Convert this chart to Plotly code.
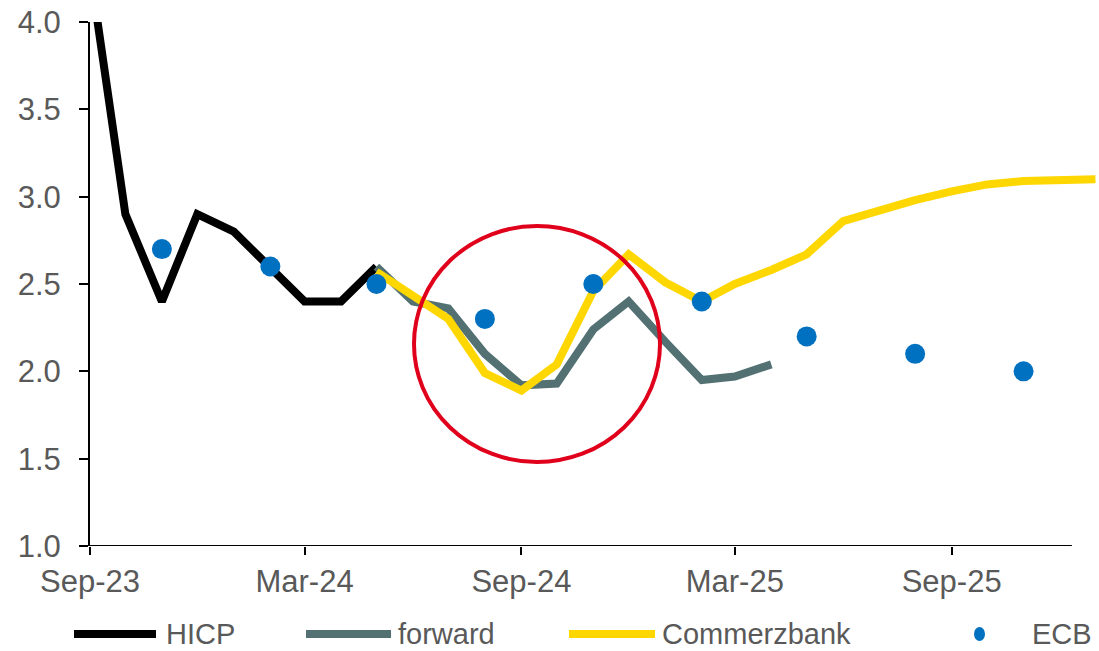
import plotly.graph_objects as go

# Monthly euro-area inflation (% y/y)
hicp_months = ["2023-09-01", "2023-10-01", "2023-11-01", "2023-12-01", "2024-01-01",
               "2024-02-01", "2024-03-01", "2024-04-01", "2024-05-01"]
hicp_values = [4.3, 2.9, 2.4, 2.9, 2.8, 2.6, 2.4, 2.4, 2.6]

forward_months = ["2024-05-01", "2024-06-01", "2024-07-01", "2024-08-01", "2024-09-01",
                  "2024-10-01", "2024-11-01", "2024-12-01", "2025-01-01", "2025-02-01",
                  "2025-03-01", "2025-04-01"]
forward_values = [2.6, 2.40, 2.36, 2.10, 1.92, 1.93, 2.24, 2.40, 2.17, 1.95, 1.97, 2.04]

cbk_months = ["2024-05-01", "2024-06-01", "2024-07-01", "2024-08-01", "2024-09-01",
              "2024-10-01", "2024-11-01", "2024-12-01", "2025-01-01", "2025-02-01",
              "2025-03-01", "2025-04-01", "2025-05-01", "2025-06-01", "2025-07-01",
              "2025-08-01", "2025-09-01", "2025-10-01", "2025-11-01", "2025-12-01",
              "2026-01-01"]
cbk_values = [2.57, 2.43, 2.30, 1.99, 1.89, 2.04, 2.46, 2.67, 2.51, 2.40,
              2.50, 2.58, 2.67, 2.86, 2.92, 2.98, 3.03, 3.07, 3.09, 3.10, 3.10]

# ECB staff projections, quarterly (plotted at mid-quarter month)
ecb_months = ["2023-11-01", "2024-02-01", "2024-05-01", "2024-08-01", "2024-11-01",
              "2025-02-01", "2025-05-01", "2025-08-01", "2025-11-01"]
ecb_values = [2.7, 2.6, 2.5, 2.3, 2.5, 2.4, 2.2, 2.1, 2.0]

x_tick_dates = ["2023-09-01", "2024-03-01", "2024-09-01", "2025-03-01", "2025-09-01"]
x_tick_labels = ["Sep-23", "Mar-24", "Sep-24", "Mar-25", "Sep-25"]
y_tick_values = [1.0, 1.5, 2.0, 2.5, 3.0, 3.5, 4.0]

series_names = ["HICP", "forward", "Commerzbank", "ECB"]
series_colors = ["#000000", "#537173", "#FFD700", "#0070C0"]

FONT = "Liberation Sans, Arial, sans-serif"
LABEL_GREY = "#595959"
FS = 31
LEGEND_FS = 29

fig = go.Figure()
fig.add_trace(go.Scatter(x=hicp_months, y=hicp_values, mode="lines", name=series_names[0],
                         line=dict(color=series_colors[0], width=8)))
fig.add_trace(go.Scatter(x=forward_months, y=forward_values, mode="lines", name=series_names[1],
                         line=dict(color=series_colors[1], width=8)))
fig.add_trace(go.Scatter(x=cbk_months, y=cbk_values, mode="lines", name=series_names[2],
                         line=dict(color=series_colors[2], width=8)))
fig.add_trace(go.Scatter(x=ecb_months, y=ecb_values, mode="markers", name=series_names[3],
                         marker=dict(color=series_colors[3], size=20)))

W, H = 1099, 651
ML, MR, MT, MB = 90, 0, 22, 105
pw, ph = W - ML - MR, H - MT - MB


def px_x(p):
    return (p - ML) / pw


def px_y(p):
    return (H - MB - p) / ph


shapes = []
# horizontal axis line ending before the right edge
shapes.append(dict(type="line", xref="x", yref="y", x0="2023-09-01", x1="2025-12-12",
                   y0=1.0, y1=1.0, line=dict(color="#000000", width=2), layer="above"))
# red highlight circle around the autumn 2024 dip
shapes.append(dict(type="circle", xref="paper", yref="paper",
                   x0=px_x(414), x1=px_x(660), y0=px_y(462), y1=px_y(226),
                   line=dict(color="#E0001B", width=4)))

# legend row
legend_y = px_y(634)
legend_items = [(74, 156, 165), (306, 391, 397), (569, 655, 661)]
annotations = []
for i, (lx0, lx1, tx) in enumerate(legend_items):
    shapes.append(dict(type="line", xref="paper", yref="paper", x0=px_x(lx0), x1=px_x(lx1),
                       y0=legend_y, y1=legend_y, line=dict(color=series_colors[i], width=8)))
    annotations.append(dict(xref="paper", yref="paper", x=px_x(tx), y=legend_y, text=series_names[i],
                            showarrow=False, xanchor="left", yanchor="middle", borderpad=0,
                            font=dict(family=FONT, size=LEGEND_FS, color=LABEL_GREY)))
shapes.append(dict(type="circle", xref="paper", yref="paper",
                   x0=px_x(974), x1=px_x(985), y0=legend_y - 7 / ph, y1=legend_y + 7 / ph,
                   fillcolor=series_colors[3], line=dict(width=0)))
annotations.append(dict(xref="paper", yref="paper", x=px_x(1031), y=legend_y, text=series_names[3],
                        showarrow=False, xanchor="left", yanchor="middle", borderpad=0,
                        font=dict(family=FONT, size=LEGEND_FS, color=LABEL_GREY)))

fig.update_layout(
    width=W, height=H,
    margin=dict(l=ML, r=MR, t=MT, b=MB),
    paper_bgcolor="white", plot_bgcolor="white",
    showlegend=False,
    shapes=shapes,
    annotations=annotations,
    font=dict(family=FONT, size=FS, color=LABEL_GREY),
    xaxis=dict(type="date", range=["2023-09-01", "2026-01-04"],
               tickvals=x_tick_dates, ticktext=x_tick_labels,
               ticks="outside", ticklen=8, tickwidth=2, tickcolor="#000000",
               showline=False, showgrid=False, zeroline=False,
               tickfont=dict(family=FONT, size=FS, color=LABEL_GREY)),
    yaxis=dict(range=[1.0, 4.0], tickvals=y_tick_values, tickformat=".1f",
               ticks="outside", ticklen=9, tickwidth=2, tickcolor="#000000",
               ticklabelstandoff=12,
               showline=True, linecolor="#000000", linewidth=2,
               showgrid=False, zeroline=False,
               tickfont=dict(family=FONT, size=FS, color=LABEL_GREY)),
)

fig.write_html("out.html")
